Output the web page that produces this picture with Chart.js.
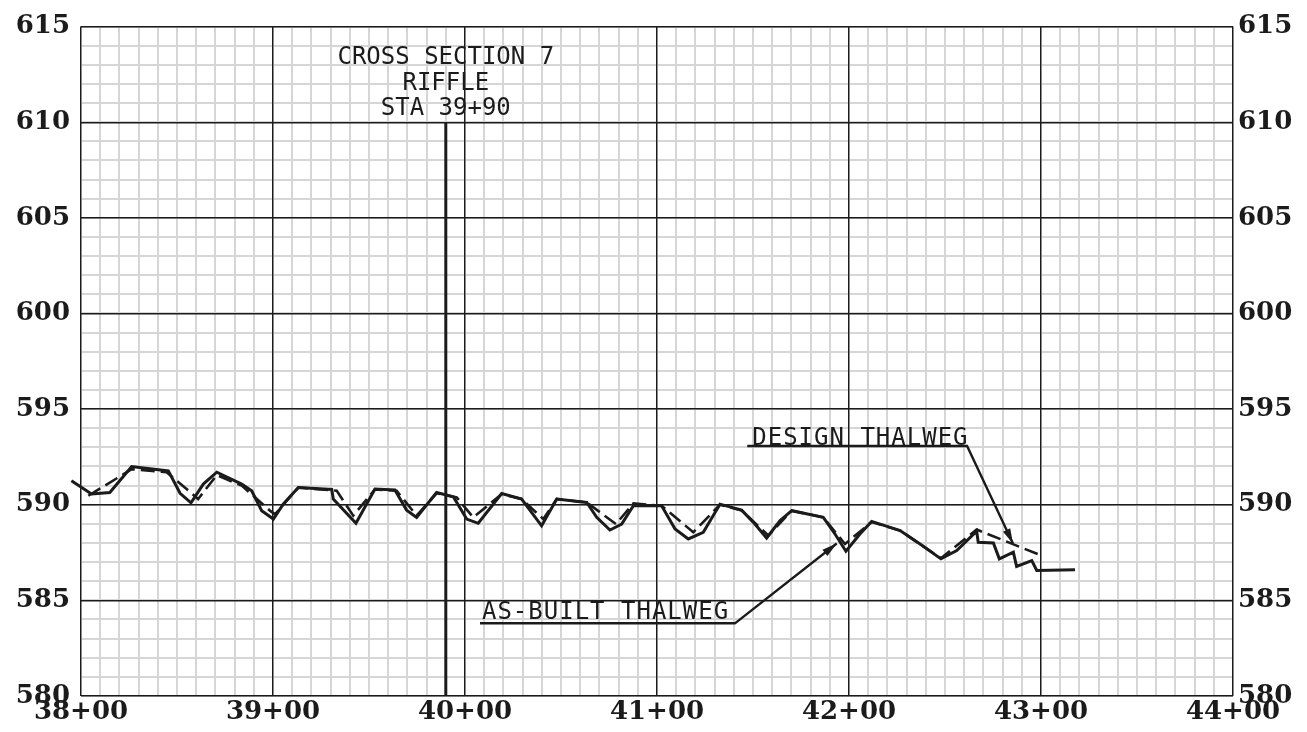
<!DOCTYPE html>
<html>
<head>
<meta charset="utf-8">
<title>Cross Section 7 - Thalweg Profile</title>
<script src="https://cdn.jsdelivr.net/npm/chart.js@4.4.1/dist/chart.umd.min.js"></script>
<style>
  html, body { margin: 0; padding: 0; background: #ffffff; }
  #wrap { position: relative; width: 1307px; height: 732px; }
</style>
</head>
<body>
<div id="wrap"><canvas id="profile" width="1307" height="732"></canvas></div>
<script>
// Station (ft) and elevation (ft) of the surveyed as-built thalweg
const asBuiltSta = [3795, 3805.5, 3815, 3826.4, 3845.5, 3851.6, 3857.3, 3863.7, 3870.7, 3883.7,
  3888.9, 3894.1, 3900.2, 3905.4, 3913.2, 3930.6, 3931.4, 3943.2, 3953.1, 3963.5,
  3969.6, 3974.8, 3985.2, 3993.9, 4000.9, 4006.9, 4019.1, 4029.5, 4039.9, 4047.8,
  4063.4, 4068.6, 4075.5, 4081.6, 4087.7, 4102.4, 4109.4, 4116.3, 4124.1, 4132.8,
  4144.1, 4150.2, 4157.1, 4164.1, 4170.2, 4186.6, 4192.7, 4198.4, 4205.7, 4211.8,
  4226.6, 4237, 4247.9, 4256.1, 4266.5, 4267.3, 4275.2, 4278.3, 4285.6, 4287.3,
  4295.2, 4297.8, 4317.7];
const asBuiltElev = [591.25, 590.56, 590.64, 592.0, 591.77, 590.6, 590.1, 591.08, 591.7, 591.08,
  590.73, 589.69, 589.25, 590.04, 590.9, 590.8, 590.3, 589.03, 590.82, 590.77,
  589.72, 589.34, 590.64, 590.42, 589.25, 589.03, 590.59, 590.3, 588.9, 590.3,
  590.12, 589.34, 588.68, 588.99, 589.95, 589.95, 588.73, 588.21, 588.56, 590.03,
  589.72, 589.08, 588.26, 589.17, 589.69, 589.34, 588.47, 587.57, 588.47, 589.13,
  588.65, 587.95, 587.17, 587.6, 588.62, 588.04, 588.0, 587.17, 587.52, 586.77,
  587.08, 586.56, 586.6];

// Station (ft) and elevation (ft) of the design thalweg
const designSta = [3803.8, 3826.4, 3844.6, 3857.6, 3861, 3870.7, 3883.7, 3898.4, 3901, 3913.2,
  3933.2, 3941.8, 3953.1, 3964.4, 3974.8, 3985.2, 3995.7, 4004.3, 4019.1, 4029.5,
  4040.8, 4047.8, 4063.4, 4078.6, 4087.7, 4102.4, 4118.9, 4132.8, 4144.1, 4158,
  4170.2, 4186.6, 4197.9, 4211.8, 4226.6, 4247.9, 4266.5, 4300.3];
const designElev = [590.47, 591.86, 591.7, 590.6, 590.3, 591.55, 591.0, 589.69, 589.5, 590.9,
  590.73, 589.43, 590.8, 590.73, 589.43, 590.6, 590.38, 589.34, 590.55, 590.3,
  589.25, 590.3, 590.12, 588.99, 590.07, 589.95, 588.56, 590.0, 589.7, 588.39,
  589.69, 589.34, 587.95, 589.1, 588.65, 587.2, 588.7, 587.34];

// Cross section marker
const sectionSta = 3990;
const sectionTop = 610;
const sectionLabel = ["CROSS SECTION 7", "RIFFLE", "STA 39+90"];

// Leader lines for the callouts: underline start, underline end, arrow tip
const designLeaderSta = [4147, 4261.5, 4285.4];
const designLeaderElev = [593.07, 593.07, 587.97];
const asBuiltLeaderSta = [4007.8, 4140.6, 4193.6];
const asBuiltLeaderElev = [583.8, 583.8, 587.97];
const designLabel = "DESIGN THALWEG";
const asBuiltLabel = "AS-BUILT THALWEG";

// Axis ranges and tick spacing
const staMin = 3800, staMax = 4400, staMinor = 10, staMajor = 100;
const elevMin = 580, elevMax = 615, elevMinor = 1, elevMajor = 5;

const INK = '#1b1b1b';
const MINOR = '#d6d6d6';
const tickFont = { family: '"DejaVu Serif", serif', size: 26, weight: 'bold' };
const noteFont = '24px "DejaVu Sans Mono", monospace';

const pts = (xs, ys) => xs.map((x, i) => ({ x: x, y: ys[i] }));
const staText = v => Math.floor(v / 100) + '+' + String(Math.round(v % 100)).padStart(2, '0');

// Arrowheads on the leader lines and the callout text
const notes = {
  id: 'notes',
  afterDatasetsDraw(chart) {
    const ctx = chart.ctx;
    const xs = chart.scales.x, ys = chart.scales.y;
    ctx.save();
    ctx.fillStyle = INK;
    chart.data.datasets.forEach((ds, i) => {
      if (!ds.arrow) return;
      const p = chart.getDatasetMeta(i).data;
      const a = p[p.length - 2], b = p[p.length - 1];
      const ang = Math.atan2(b.y - a.y, b.x - a.x);
      const L = 15, W = 4;
      ctx.beginPath();
      ctx.moveTo(b.x, b.y);
      ctx.lineTo(b.x - L * Math.cos(ang) + W * Math.sin(ang), b.y - L * Math.sin(ang) - W * Math.cos(ang));
      ctx.lineTo(b.x - L * Math.cos(ang) - W * Math.sin(ang), b.y - L * Math.sin(ang) + W * Math.cos(ang));
      ctx.closePath();
      ctx.fill();
    });
    ctx.font = noteFont;
    ctx.textBaseline = 'alphabetic';
    // station marker label, centred on the marker line
    ctx.textAlign = 'center';
    const cx = xs.getPixelForValue(sectionSta);
    const top = ys.getPixelForValue(sectionTop);
    sectionLabel.forEach((t, k) => {
      ctx.fillText(t, cx, top - 58 + k * 25.3);
    });
    // callouts sit on their underline
    ctx.textAlign = 'left';
    ctx.letterSpacing = '1px';
    ctx.fillText(designLabel, xs.getPixelForValue(designLeaderSta[0]) + 5, ys.getPixelForValue(designLeaderElev[0]) - 1);
    ctx.fillText(asBuiltLabel, xs.getPixelForValue(asBuiltLeaderSta[0]) + 2, ys.getPixelForValue(asBuiltLeaderElev[0]) - 4);
    ctx.restore();
  }
};

const majorGrid = () => ({
  color: INK, lineWidth: 1.4, drawTicks: false, z: -0.5
});

new Chart(document.getElementById('profile'), {
  type: 'line',
  data: {
    datasets: [
      {
        label: 'As-built thalweg',
        data: pts(asBuiltSta, asBuiltElev),
        borderColor: INK, borderWidth: 3, pointRadius: 0, tension: 0, clip: false,
        borderJoinStyle: 'miter'
      },
      {
        label: 'Design thalweg',
        data: pts(designSta, designElev),
        borderColor: INK, borderWidth: 2.6, borderDash: [14, 6], pointRadius: 0, tension: 0, clip: false
      },
      {
        label: 'Cross section 7',
        data: [{ x: sectionSta, y: sectionTop }, { x: sectionSta, y: elevMin }],
        borderColor: INK, borderWidth: 3, pointRadius: 0
      },
      {
        label: 'Design callout',
        data: pts(designLeaderSta, designLeaderElev),
        borderColor: INK, borderWidth: 2.4, pointRadius: 0, tension: 0, arrow: true
      },
      {
        label: 'As-built callout',
        data: pts(asBuiltLeaderSta, asBuiltLeaderElev),
        borderColor: INK, borderWidth: 2.4, pointRadius: 0, tension: 0, arrow: true
      }
    ]
  },
  options: {
    responsive: false,
    animation: false,
    parsing: false,
    layout: { padding: { top: 24, left: 0, right: 0, bottom: 0 } },
    plugins: { legend: { display: false }, tooltip: { enabled: false } },
    scales: {
      x: {
        type: 'linear', position: 'bottom', min: staMin, max: staMax,
        afterFit: s => { s.height = 36; },
        ticks: {
          stepSize: staMinor, autoSkip: false, maxRotation: 0, padding: 1,
          color: INK, font: tickFont,
          callback: v => (v % staMajor === 0 ? staText(v) : '')
        },
        grid: { color: MINOR, lineWidth: 2, drawTicks: false },
        border: { display: false }
      },
      y: {
        type: 'linear', position: 'left', min: elevMin, max: elevMax,
        afterFit: s => { s.width = 81; },
        ticks: {
          stepSize: elevMinor, autoSkip: false, padding: 11,
          color: INK, font: tickFont,
          callback: v => (v % elevMajor === 0 ? String(v) : '')
        },
        grid: { color: MINOR, lineWidth: 2, drawTicks: false },
        border: { display: false }
      },
      yRight: {
        type: 'linear', position: 'right', min: elevMin, max: elevMax,
        afterFit: s => { s.width = 74; },
        ticks: {
          stepSize: elevMinor, autoSkip: false, padding: 5,
          color: INK, font: tickFont,
          callback: v => (v % elevMajor === 0 ? String(v) : '')
        },
        grid: { display: false, drawTicks: false },
        border: { display: false }
      },
      // major station / elevation lines drawn over the fine grid
      xMajor: {
        type: 'linear', position: 'bottom', min: staMin, max: staMax,
        afterFit: s => { s.height = 0; },
        ticks: { stepSize: staMajor, display: false },
        grid: majorGrid(),
        border: { display: false }
      },
      yMajor: {
        type: 'linear', position: 'left', min: elevMin, max: elevMax,
        afterFit: s => { s.width = 0; },
        ticks: { stepSize: elevMajor, display: false },
        grid: majorGrid(),
        border: { display: false }
      }
    }
  },
  plugins: [notes]
});
</script>
</body>
</html>
